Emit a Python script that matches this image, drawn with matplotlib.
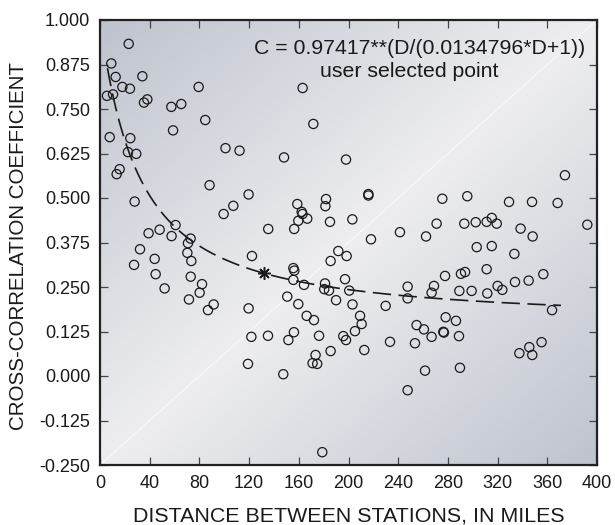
import numpy as np
import matplotlib
matplotlib.use("Agg")
import matplotlib.pyplot as plt

plt.rcParams['font.family'] = ['Liberation Sans', 'DejaVu Sans']

# Observed station pairs: distance (miles), cross-correlation coefficient
distance = [
    23.1, 9.1, 12.6, 34.1, 5.6, 10.5, 18.0, 24.1, 35.4, 38.1, 57.4, 65.4, 79.4, 84.7,
    58.8, 7.8, 24.4, 22.5, 29.2, 15.8, 13.4, 27.9, 101.0, 112.3, 88.2, 119.6, 107.3,
    99.5, 60.8, 48.0, 39.1, 57.6, 72.9,
    70.8, 70.3, 73.5, 32.2, 27.4, 44.0, 44.8, 52.0, 73.0, 82.1, 80.2, 71.6, 86.9, 91.5,
    122.3, 119.6, 121.8, 119.1, 135.2,
    135.4, 148.1, 163.1, 171.7, 198.0, 216.0, 216.0, 158.8, 181.9, 181.4, 162.3, 163.0,
    166.8, 159.6, 156.3, 185.1, 203.1, 218.1, 241.4, 262.4,
    191.8, 198.5, 185.6, 155.6, 156.4, 155.6, 164.2, 181.1, 180.5, 184.3, 197.2, 200.6,
    190.0, 203.2, 229.9, 247.6, 247.6, 150.7, 159.6, 166.3, 172.2, 209.3, 210.6, 205.2,
    195.8, 198.0, 176.3, 156.1, 151.6, 185.6, 212.7, 233.4, 254.8, 260.7, 266.9, 253.5,
    173.5, 171.1, 174.8, 147.5, 178.9, 261.6, 247.6,
    374.2, 275.5, 295.6, 329.2, 347.7, 368.3, 270.9, 293.2, 302.4, 311.2, 315.3, 319.3,
    338.5, 348.2, 392.2,
    303.2, 315.3, 333.5, 268.8, 266.9, 277.7, 290.5, 293.8, 311.2, 289.2, 299.1, 311.7,
    320.0, 323.8, 334.0, 345.0, 356.8, 363.8, 278.2, 286.5, 276.3, 276.8, 288.9, 289.7,
    337.5, 345.5, 347.9, 355.4,
]
coefficient = [
    0.933, 0.878, 0.840, 0.842, 0.787, 0.791, 0.812, 0.807, 0.768, 0.777, 0.756, 0.764,
    0.812, 0.719, 0.690, 0.671, 0.668, 0.629, 0.624, 0.581, 0.567, 0.490, 0.640, 0.633,
    0.536, 0.510, 0.478, 0.455, 0.424, 0.411, 0.401, 0.393, 0.386,
    0.373, 0.346, 0.323, 0.356, 0.312, 0.329, 0.286, 0.246, 0.279, 0.258, 0.234, 0.215,
    0.185, 0.201, 0.337, 0.190, 0.110, 0.034, 0.113,
    0.413, 0.614, 0.809, 0.708, 0.608, 0.511, 0.507, 0.483, 0.497, 0.477, 0.461, 0.455,
    0.442, 0.436, 0.413, 0.433, 0.440, 0.384, 0.404, 0.392,
    0.351, 0.337, 0.323, 0.303, 0.296, 0.270, 0.256, 0.260, 0.244, 0.240, 0.272, 0.240,
    0.213, 0.201, 0.197, 0.251, 0.218, 0.223, 0.202, 0.169, 0.157, 0.169, 0.146, 0.126,
    0.112, 0.101, 0.113, 0.123, 0.101, 0.070, 0.073, 0.096, 0.143, 0.131, 0.110, 0.092,
    0.059, 0.036, 0.034, 0.005, -0.214, 0.015, -0.040,
    0.564, 0.498, 0.505, 0.489, 0.489, 0.486, 0.428, 0.428, 0.432, 0.433, 0.444, 0.428,
    0.414, 0.392, 0.425,
    0.362, 0.365, 0.343, 0.253, 0.234, 0.281, 0.287, 0.292, 0.300, 0.239, 0.239, 0.232,
    0.253, 0.242, 0.264, 0.268, 0.286, 0.185, 0.165, 0.155, 0.124, 0.122, 0.112, 0.023,
    0.064, 0.081, 0.059, 0.095,
]

# Fitted model C = a**(D/(b*D+1))
coef_a = 0.97417
coef_b = 0.0134796
curve_start, curve_end = 6.0, 371.0
selected_distance = 132.0

equation_text = "C = 0.97417**(D/(0.0134796*D+1))"
note_text = "user selected point"
x_label = "DISTANCE BETWEEN STATIONS, IN MILES"
y_label = "CROSS-CORRELATION COEFFICIENT"
x_ticks = [0, 40, 80, 120, 160, 200, 240, 280, 320, 360, 400]
y_ticks = [1.000, 0.875, 0.750, 0.625, 0.500, 0.375, 0.250, 0.125, 0.000, -0.125, -0.250]


def model(d):
    d = np.asarray(d, dtype=float)
    return coef_a ** (d / (coef_b * d + 1.0))


fig = plt.figure(figsize=(6.15, 5.25), dpi=100)
ax = fig.add_axes([100 / 615, 60 / 525, 497 / 615, 445 / 525])

# background gradient: light along the diagonal, darker toward the corners
ny, nx = 445, 497
u = np.linspace(0, 1, nx)[None, :]
v = np.linspace(1, 0, ny)[:, None]
t = np.abs(u - v)
light = np.array([238, 238, 240]) / 255.0
dark = np.array([190, 195, 206]) / 255.0
img = light[None, None, :] + (dark - light)[None, None, :] * t[:, :, None]
ax.imshow(img, extent=[0, 1, 0, 1], transform=ax.transAxes, aspect='auto',
          zorder=0, interpolation='bilinear')
ax.plot([0, 1], [0, 1], transform=ax.transAxes, color='white', lw=0.6,
        alpha=0.8, zorder=0.5)

ax.scatter(distance, coefficient, s=44, facecolors='none', edgecolors='#1a1a1a',
           linewidths=0.9, zorder=3)

dd = np.linspace(curve_start, curve_end, 400)
ax.plot(dd, model(dd), color='#1a1a1a', lw=1.2, linestyle=(0, (11, 4.5)), zorder=2)

ax.plot([selected_distance], [model(selected_distance)], marker=(8, 2, 0),
        color='#1a1a1a', ms=9, mew=1.1, linestyle='none', zorder=4)

ax.text(0.976, 0.937, equation_text, transform=ax.transAxes, ha='right', va='center',
        fontsize=15.3, color='#1a1a1a')
ax.text(0.622, 0.884, note_text, transform=ax.transAxes, ha='center', va='center',
        fontsize=15.3, color='#1a1a1a')

ax.set_xlim(0, 400)
ax.set_ylim(-0.25, 1.0)
ax.set_xticks(x_ticks)
ax.set_xticklabels([str(x) for x in x_ticks])
ax.set_yticks(y_ticks)
ax.set_yticklabels([f"{y:.3f}" for y in y_ticks])
ax.tick_params(direction='in', length=6, width=0.9, color='#444444',
               top=True, right=True, labelsize=13, labelcolor='#1a1a1a', pad=7)
for s in ax.spines.values():
    s.set_linewidth(1.6)
    s.set_color('#222222')
    s.set_zorder(5)

fig.text(348.5 / 615, 3 / 525, x_label, ha='center', va='baseline',
         fontsize=15.4, color='#1a1a1a')
fig.text(19 / 615, 278.5 / 525, y_label, ha='center', va='center', rotation=90,
         fontsize=14.8, color='#1a1a1a')

fig.savefig("out.png", dpi=100)
